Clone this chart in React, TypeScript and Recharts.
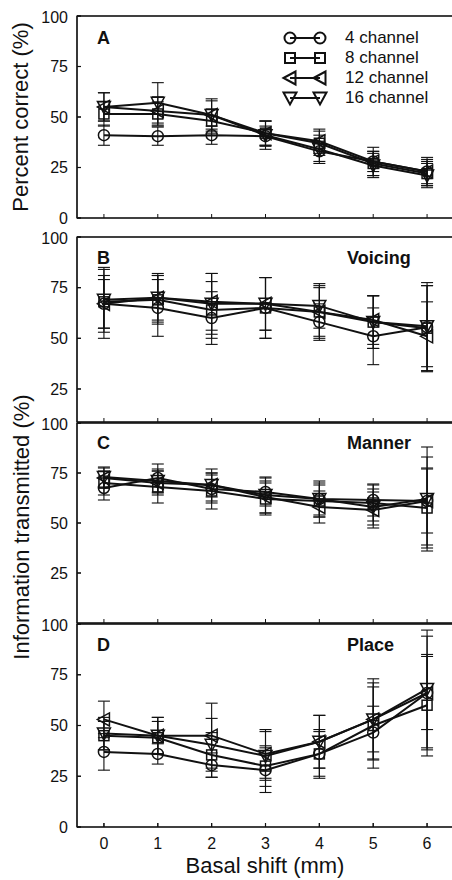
import { LineChart, Line, XAxis, YAxis, ErrorBar, Legend } from 'recharts'

const FONT = '"Liberation Sans", Arial, sans-serif'
const INK = '#111'

const SHIFTS = [0, 1, 2, 3, 4, 5, 6]
const NAMES = ['4 channel', '8 channel', '12 channel', '16 channel']
const SHAPES = ['circle', 'square', 'left', 'down']

// A: percent correct
const A_MEAN_4 = [41, 40.5, 41, 40.5, 33, 28, 23]
const A_MEAN_8 = [51.5, 51.5, 48, 42, 37, 27, 22]
const A_MEAN_12 = [55, 53, 51, 42, 38, 28, 23]
const A_MEAN_16 = [55, 57, 51, 41, 34, 26, 21]
const A_ERR_4 = [5, 4.5, 4.5, 5, 5, 5, 6]
const A_ERR_8 = [6, 6, 6, 6, 6, 6, 6]
const A_ERR_12 = [7, 7, 7, 6, 6, 7, 7]
const A_ERR_16 = [7, 10, 8, 7, 7, 6, 6]

// B: voicing
const B_MEAN_4 = [67, 65, 60, 65, 58, 51, 55.5]
const B_MEAN_8 = [68, 69, 64, 65, 63, 58, 55]
const B_MEAN_12 = [67, 70, 68, 67, 63, 59, 51]
const B_MEAN_16 = [69, 70, 67, 67, 66, 58, 56]
const B_ERR_4 = [17, 14, 13, 15, 9, 14, 22]
const B_ERR_8 = [13, 12, 14, 15, 12, 13, 21]
const B_ERR_12 = [12, 11, 14, 13, 13, 12, 17]
const B_ERR_16 = [16, 12, 15, 13, 11, 13, 20]

// C: manner
const C_MEAN_4 = [67.5, 72.5, 67, 65.5, 62, 61.5, 61]
const C_MEAN_8 = [70, 68, 66, 62, 61, 60, 57.5]
const C_MEAN_12 = [72.5, 70, 69, 63, 58, 56.5, 61]
const C_MEAN_16 = [73, 71, 69, 64, 62, 58, 62]
const C_ERR_4 = [6, 7, 7, 7, 8, 8, 22]
const C_ERR_8 = [6, 8, 9, 8, 8, 9, 20]
const C_ERR_12 = [5, 6, 6, 8, 8, 9, 16]
const C_ERR_16 = [5, 6, 8, 9, 9, 9, 26]

// D: place
const D_MEAN_4 = [37, 36, 30.5, 28, 36, 46.5, 66]
const D_MEAN_8 = [45, 44, 35.5, 30, 36, 50, 60]
const D_MEAN_12 = [53, 45, 45, 36, 42, 53, 66]
const D_MEAN_16 = [46, 45, 40.5, 35, 42, 53, 68]
const D_ERR_4 = [9, 5, 6, 11, 12, 13, 28]
const D_ERR_8 = [7, 8, 11, 10, 11, 21, 25]
const D_ERR_12 = [9, 9, 16, 12, 13, 16, 18]
const D_ERR_16 = [8, 9, 13, 12, 13, 20, 29]

const TICKS_FULL = [0, 25, 50, 75, 100]
const TICKS_NO_ZERO = [25, 50, 75, 100]
const X_DOMAIN = [-0.5, 6.5]

function rows(means: number[][], errs: number[][]) {
  return SHIFTS.map((x, i) => ({
    x,
    m0: means[0][i], m1: means[1][i], m2: means[2][i], m3: means[3][i],
    e0: errs[0][i], e1: errs[1][i], e2: errs[2][i], e3: errs[3][i],
  }))
}

const PANELS = [
  { key: 'A', top: 16, bottom: 218, domain: [0, 100], ticks: TICKS_FULL,
    data: rows([A_MEAN_4, A_MEAN_8, A_MEAN_12, A_MEAN_16], [A_ERR_4, A_ERR_8, A_ERR_12, A_ERR_16]) },
  { key: 'B', top: 237, bottom: 422, domain: [8.7, 100], ticks: TICKS_NO_ZERO,
    data: rows([B_MEAN_4, B_MEAN_8, B_MEAN_12, B_MEAN_16], [B_ERR_4, B_ERR_8, B_ERR_12, B_ERR_16]) },
  { key: 'C', top: 423, bottom: 623, domain: [0, 100], ticks: TICKS_NO_ZERO,
    data: rows([C_MEAN_4, C_MEAN_8, C_MEAN_12, C_MEAN_16], [C_ERR_4, C_ERR_8, C_ERR_12, C_ERR_16]) },
  { key: 'D', top: 624, bottom: 827, domain: [0, 100], ticks: TICKS_FULL,
    data: rows([D_MEAN_4, D_MEAN_8, D_MEAN_12, D_MEAN_16], [D_ERR_4, D_ERR_8, D_ERR_12, D_ERR_16]) },
]

// plot box edges shared by every panel
const LEFT = 77
const RIGHT = 454
const PAD = 8

function Marker({ shape, cx, cy, sw = 1.5 }: { shape: string; cx: number; cy: number; sw?: number }) {
  const p = { fill: 'none', stroke: INK, strokeWidth: sw }
  if (shape === 'circle') return <circle cx={cx} cy={cy} r={5.5} {...p} />
  if (shape === 'square') return <rect x={cx - 5} y={cy - 5} width={10} height={10} {...p} />
  if (shape === 'left') return <polygon points={`${cx - 6.5},${cy} ${cx + 5.5},${cy - 6.5} ${cx + 5.5},${cy + 6.5}`} {...p} />
  return <polygon points={`${cx - 6.5},${cy - 5.5} ${cx + 6.5},${cy - 5.5} ${cx},${cy + 6.5}`} {...p} />
}

function LegendBox() {
  return (
    <div style={{ fontFamily: FONT, color: INK }}>
      {NAMES.map((n, i) => (
        <div key={n} style={{ display: 'flex', alignItems: 'center', height: 20 }}>
          <svg width={60} height={20}>
            <line x1={10} x2={40} y1={10} y2={10} stroke={INK} strokeWidth={2} />
            <Marker shape={SHAPES[i]} cx={10} cy={10} sw={2} />
            <Marker shape={SHAPES[i]} cx={40} cy={10} sw={2} />
          </svg>
          <span style={{ fontSize: 17, marginLeft: 5 }}>{n}</span>
        </div>
      ))}
    </div>
  )
}

const tickStyle = { fontSize: 16, fill: INK, fontFamily: FONT }

function Panel({ cfg }: { cfg: typeof PANELS[number] }) {
  const showX = cfg.key === 'D'
  const xh = showX ? 30 : 1
  const h = PAD + (cfg.bottom - cfg.top) + 14 + xh
  return (
    <div style={{ position: 'absolute', left: 0, top: cfg.top - PAD }}>
      <LineChart width={RIGHT + 6} height={h} data={cfg.data} margin={{ top: PAD - 1, right: 5, bottom: 14, left: LEFT - 60 }}>
        <XAxis xAxisId="b" dataKey="x" type="number" domain={X_DOMAIN} ticks={SHIFTS} allowDataOverflow
          height={xh} tickMargin={15} tick={showX ? tickStyle : false} stroke={INK} strokeWidth={1.2} tickSize={-4} />
        <XAxis xAxisId="t" orientation="top" dataKey="x" type="number" domain={X_DOMAIN} ticks={SHIFTS} allowDataOverflow
          height={1} tick={false} stroke={INK} strokeWidth={1.2} tickSize={-4} />
        <YAxis yAxisId="l" type="number" domain={cfg.domain} ticks={cfg.ticks} allowDataOverflow interval="preserveStartEnd"
          width={60} tickMargin={13} tick={tickStyle} stroke={INK} strokeWidth={1.2} tickSize={-4} />
        <YAxis yAxisId="r" orientation="right" type="number" domain={cfg.domain} ticks={cfg.ticks} allowDataOverflow
          width={1} tick={false} stroke={INK} strokeWidth={1.2} tickSize={-4} />
        {SHAPES.map((shape, i) => (
          <Line key={shape} xAxisId="b" yAxisId="l" dataKey={`m${i}`} name={NAMES[i]} stroke={INK} strokeWidth={2}
            isAnimationActive={false}
            dot={(p: any) => <Marker key={`${shape}-${p.index}`} shape={shape} cx={p.cx} cy={p.cy} />}>
            <ErrorBar dataKey={`e${i}`} width={6} stroke={INK} strokeWidth={1.1} direction="y" isAnimationActive={false} />
          </Line>
        ))}
        {cfg.key === 'A' && (
          <Legend layout="vertical" align="center" verticalAlign="middle" content={() => <LegendBox />}
            wrapperStyle={{ top: 20, left: 280, width: 170 }} />
        )}
      </LineChart>
    </div>
  )
}

// panel box outline plus the inward ticks on its left and bottom edges
function Frame({ cfg }: { cfg: typeof PANELS[number] }) {
  const [lo, hi] = cfg.domain
  const yOf = (v: number) => cfg.top + ((hi - v) / (hi - lo)) * (cfg.bottom - cfg.top)
  const xOf = (v: number) => LEFT + ((v - X_DOMAIN[0]) / (X_DOMAIN[1] - X_DOMAIN[0])) * (RIGHT - LEFT)
  return (
    <g stroke={INK} strokeWidth={1.2} fill="none">
      <rect x={LEFT} y={cfg.top} width={RIGHT - LEFT} height={cfg.bottom - cfg.top} />
      {cfg.ticks.map(t => <line key={`y${t}`} x1={LEFT} x2={LEFT + 4} y1={yOf(t)} y2={yOf(t)} strokeWidth={1} />)}
      {SHIFTS.map(s => <line key={`x${s}`} x1={xOf(s)} x2={xOf(s)} y1={cfg.bottom} y2={cfg.bottom - 4} strokeWidth={1} />)}
    </g>
  )
}

const PANEL_TEXT = [
  { letter: 'A', y: 38, title: '' },
  { letter: 'B', y: 258, title: 'Voicing' },
  { letter: 'C', y: 443, title: 'Manner' },
  { letter: 'D', y: 645, title: 'Place' },
]

export default function App() {
  return (
    <div style={{ position: 'absolute', left: 0, top: 0, width: 452, height: 880, overflow: 'hidden', background: '#fff' }}>
      {PANELS.map(p => <Panel key={p.key} cfg={p} />)}
      <svg width={452} height={880} style={{ position: 'absolute', left: 0, top: 0, pointerEvents: 'none' }}
        fontFamily={FONT} fill={INK}>
        {PANELS.map(p => <Frame key={p.key} cfg={p} />)}
        <text x={20} y={117} transform="rotate(-90 20 117)" textAnchor="middle" dominantBaseline="central" fontSize={22}>
          Percent correct (%)
        </text>
        <text x={21} y={527} transform="rotate(-90 21 527)" textAnchor="middle" dominantBaseline="central" fontSize={22}>
          Information transmitted (%)
        </text>
        <text x={265} y={865} textAnchor="middle" dominantBaseline="central" fontSize={22}>Basal shift (mm)</text>
        {PANEL_TEXT.map(t => (
          <g key={t.letter} fontWeight="bold" fontSize={18}>
            <text x={97} y={t.y} dominantBaseline="central">{t.letter}</text>
            {t.title && <text x={347} y={t.y} dominantBaseline="central">{t.title}</text>}
          </g>
        ))}
      </svg>
    </div>
  )
}
